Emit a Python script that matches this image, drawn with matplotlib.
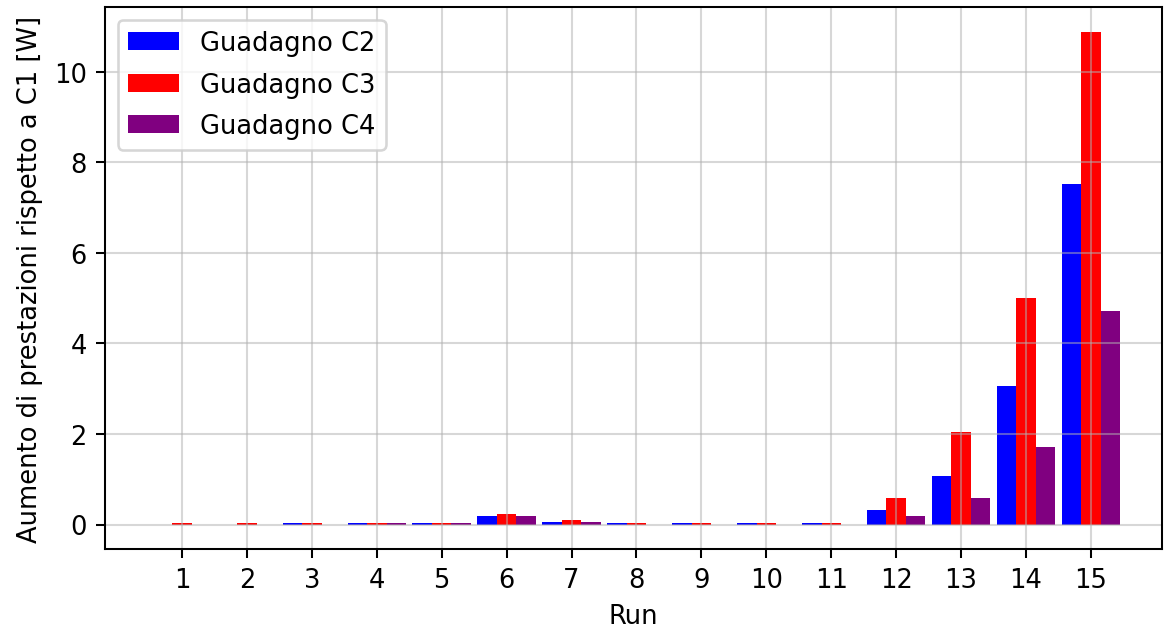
import numpy as np
import matplotlib.pyplot as plt

# ================================== DATI ==================================

runs = list(range(1, 16))
guadagno_c2 = [0.0, 0.0, 0.04, 0.04, 0.04, 0.18, 0.05, 0.04, 0.04, 0.04, 0.04, 0.31, 1.08, 3.06, 7.51]
guadagno_c3 = [0.04, 0.04, 0.04, 0.04, 0.04, 0.23, 0.09, 0.04, 0.04, 0.04, 0.04, 0.59, 2.05, 5.0, 10.88]
guadagno_c4 = [0.0, 0.0, 0.0, 0.04, 0.04, 0.18, 0.05, 0.0, 0.0, 0.0, 0.0, 0.18, 0.59, 1.72, 4.71]

# ================================== GRAFICO ==================================

x = np.array(runs)
larghezza = 0.3

fig, ax = plt.subplots(figsize=(6.292, 3.405), dpi=185)
ax.bar(x - larghezza, guadagno_c2, larghezza, color='blue', label='Guadagno C2')
ax.bar(x, guadagno_c3, larghezza, color='red', label='Guadagno C3')
ax.bar(x + larghezza, guadagno_c4, larghezza, color='purple', label='Guadagno C4')

ax.set_xticks(x)
ax.set_xlim(-0.19, 16.09)
ax.set_ylim(-0.54, 11.42)
ax.set_xlabel('Run')
ax.set_ylabel('Aumento di prestazioni rispetto a C1 [W]')
ax.grid(True, alpha=0.5)
ax.legend(loc='upper left', labelspacing=0.6)

plt.subplots_adjust(left=0.09, right=0.998, top=0.987, bottom=0.127)
plt.savefig('out.png')
